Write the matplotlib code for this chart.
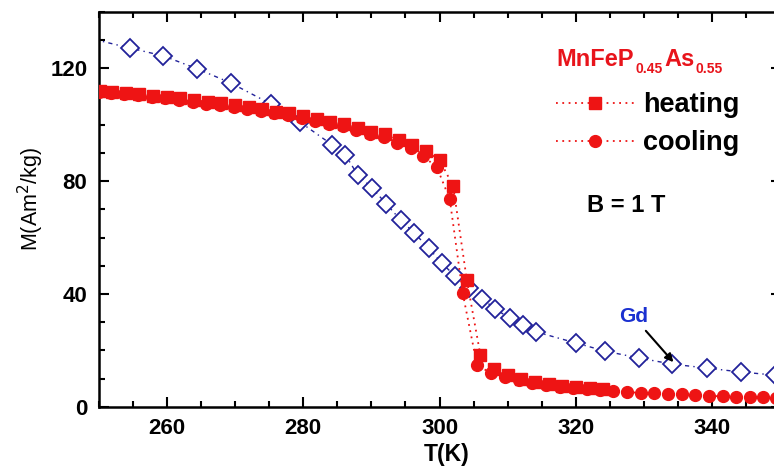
import matplotlib
matplotlib.use("Agg")
import matplotlib.pyplot as plt
from matplotlib.ticker import MultipleLocator

plt.rcParams['font.family'] = ['Liberation Sans', 'DejaVu Sans']

# ---------------- data ----------------
heat_T = [250.2, 252, 254, 256, 258, 260, 262, 264, 266, 268, 270, 272, 274, 276, 278,
          280, 282, 284, 286, 288, 290, 292, 294, 296, 298, 300, 302, 304, 306, 308,
          310, 312, 314, 316, 318, 320, 322, 324]
heat_M = [111.9, 111.6, 111.3, 110.9, 110.2, 109.8, 109.4, 108.7, 108.0, 107.7, 107.0,
          106.3, 105.6, 104.5, 104.1, 103.1, 102.0, 100.9, 100.2, 98.8, 97.4, 96.7,
          94.6, 92.8, 90.6, 87.5, 78.3, 45.0, 18.3, 13.4, 11.2, 9.8, 8.8, 8.1, 7.4,
          7.0, 6.7, 6.3]

cool_T = [250.0, 251.8, 253.8, 255.8, 257.8, 259.8, 261.8, 263.8, 265.8, 267.8, 269.8,
          271.8, 273.8, 275.8, 277.8, 279.8, 281.8, 283.8, 285.8, 287.8, 289.8, 291.8,
          293.8, 295.8, 297.6, 299.6, 301.5, 303.4, 305.5, 307.6, 309.6, 311.6, 313.6,
          315.6, 317.6, 319.6, 321.6, 323.5, 325.4, 327.5, 329.5, 331.5, 333.5, 335.5,
          337.5, 339.5, 341.5, 343.5, 345.5, 347.5, 349.4]
cool_M = [111.5, 111.2, 110.9, 110.4, 109.8, 109.3, 108.9, 108.2, 107.5, 107.1, 106.4,
          105.7, 105.0, 104.0, 103.5, 102.5, 101.4, 100.3, 99.5, 98.0, 96.6, 95.8,
          93.6, 91.6, 88.8, 85.0, 73.6, 40.3, 14.8, 11.8, 10.5, 9.3, 8.4, 7.7, 7.1,
          6.7, 6.3, 5.9, 5.6, 5.2, 4.9, 4.7, 4.5, 4.4, 4.1, 3.8, 3.7, 3.6, 3.4, 3.3, 3.2]

gd_T = [245.5, 254.6, 259.5, 264.5, 269.4, 275.3, 279.5, 284.3, 286.2, 288.0, 290.1,
        292.2, 294.3, 296.3, 298.4, 300.3, 302.3, 304.3, 306.3, 308.2, 310.3, 312.3,
        314.2, 320.0, 324.3, 329.2, 334.1, 339.2, 344.2, 349.2]
gd_M = [132.5, 127.2, 124.4, 119.8, 114.8, 107.3, 101.0, 92.8, 89.3, 82.2, 77.6, 71.9,
        66.2, 61.6, 56.3, 51.0, 46.3, 42.1, 38.2, 34.6, 31.4, 29.0, 26.5, 22.6, 19.7,
        17.3, 15.1, 13.7, 12.3, 11.2]

x_ticks = [260, 280, 300, 320, 340]
y_ticks = [0, 40, 80, 120]

# ---------------- figure ----------------
W, H = 774, 466
fig = plt.figure(figsize=(W / 100, H / 100), dpi=100)
x0, x1 = 98.5, 780.5
y0, y1 = 406.7, 11.9
ax = fig.add_axes([x0 / W, 1 - y0 / H, (x1 - x0) / W, (y0 - y1) / H])

red = '#ee1414'
navy = '#22229a'

ax.plot(gd_T, gd_M, linestyle=(0, (3, 3, 1, 3)), lw=1.0, color=navy,
        marker='D', ms=9.5, mfc='white', mec=navy, mew=1.3, zorder=2)
ax.plot(cool_T, cool_M, linestyle=(0, (1, 2.5)), lw=1.3, color=red,
        marker='o', ms=8.5, mfc=red, mec=red, zorder=3, label='cooling')
ax.plot(heat_T, heat_M, linestyle=(0, (1, 2.5)), lw=1.3, color=red,
        marker='s', ms=8, mfc=red, mec=red, zorder=4, label='heating')

ax.set_xlim(250, 350)
ax.set_ylim(0, 140)
ax.set_xticks(x_ticks)
ax.set_yticks(y_ticks)
ax.xaxis.set_minor_locator(MultipleLocator(5))
ax.yaxis.set_minor_locator(MultipleLocator(10))
ax.tick_params(which='both', direction='in', top=True, right=True, width=1.5)
ax.tick_params(which='major', length=7, labelsize=16, pad=8)
ax.tick_params(which='minor', length=4)
for lab in ax.get_xticklabels() + ax.get_yticklabels():
    lab.set_fontweight('bold')
for sp in ax.spines.values():
    sp.set_linewidth(1.8)


def ftext(x, y, s, **kw):
    return fig.text(x / W, 1 - y / H, s, **kw)


# axis labels
ftext(31, 199, 'M(Am$^2$/kg)', rotation=90, ha='center', va='center', fontsize=15.5)
ftext(447, 455, 'T(K)', ha='center', va='center', fontsize=16.5, fontweight='bold')

# compound name, built from pieces (subscripts)
tc = '#e8141b'
ftext(556, 66, 'MnFeP', ha='left', va='baseline', fontsize=17, fontweight='bold', color=tc)
ftext(635, 73, '0.45', ha='left', va='baseline', fontsize=10, fontweight='bold', color=tc)
ftext(664, 66, 'As', ha='left', va='baseline', fontsize=17, fontweight='bold', color=tc)
ftext(696, 73, '0.55', ha='left', va='baseline', fontsize=10, fontweight='bold', color=tc)

ftext(587, 205, 'B = 1 T', ha='left', va='center', fontsize=17, fontweight='bold',
      color='black')
ax.annotate('Gd', xy=(334.3, 15.8), xytext=(328.4, 32.0), ha='center', va='center',
            fontsize=15, fontweight='bold', color='#1a30d0',
            arrowprops=dict(arrowstyle='-|>', color='black', lw=1.5,
                            mutation_scale=12, shrinkA=2, shrinkB=0))

handles, labels = ax.get_legend_handles_labels()
leg = ax.legend(handles[::-1], labels[::-1], loc='upper left',
                bbox_to_anchor=((556 - x0) / (x1 - x0), 1 - (92 - y1) / (y0 - y1)),
                frameon=False, handlelength=2.9, handletextpad=0.3,
                labelspacing=0.45, borderpad=0, borderaxespad=0,
                prop={'weight': 'bold', 'size': 19.5})

fig.savefig('out.png', dpi=100)
